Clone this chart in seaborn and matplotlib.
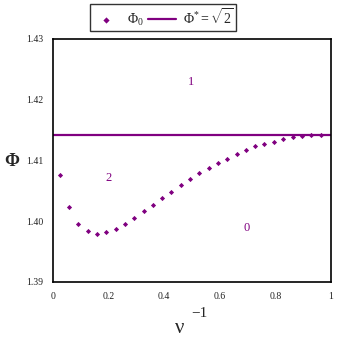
import numpy as np
import pandas as pd
import matplotlib
matplotlib.use('Agg')
import matplotlib.pyplot as plt
import seaborn as sns

# values
inv_nu = [0.024, 0.058, 0.091, 0.125, 0.158, 0.192, 0.225, 0.259, 0.292, 0.326,
          0.359, 0.393, 0.426, 0.460, 0.493, 0.527, 0.560, 0.594, 0.627, 0.661,
          0.694, 0.728, 0.761, 0.795, 0.828, 0.862, 0.895, 0.929, 0.963]
phi0 = [1.4076, 1.4024, 1.3996, 1.3983, 1.3979, 1.3982, 1.3987, 1.3995, 1.4005, 1.4016,
        1.4027, 1.4038, 1.4048, 1.4059, 1.4069, 1.4079, 1.4087, 1.4096, 1.4103, 1.4111,
        1.4117, 1.4123, 1.4127, 1.4131, 1.4135, 1.4138, 1.4140, 1.4142, 1.4142]
region_labels = ['1', '2', '0']
region_x = [0.495, 0.199, 0.697]
region_y = [1.4229, 1.4071, 1.3989]

purple = '#800080'
df = pd.DataFrame({'inv_nu': inv_nu, 'phi0': phi0})

sns.set_style('white')
plt.rcParams['font.family'] = ['Liberation Serif', 'DejaVu Serif']
plt.rcParams['mathtext.fontset'] = 'custom'
plt.rcParams['mathtext.rm'] = 'Liberation Serif'
plt.rcParams['mathtext.it'] = 'Liberation Serif:italic'

fig = plt.figure(figsize=(3.38, 3.38), dpi=100)
ax = fig.add_axes([0.157, 0.166, 0.822, 0.719])

sns.scatterplot(data=df, x='inv_nu', y='phi0', ax=ax, color=purple, marker='D',
                s=7, linewidth=0, label=r'$\mathrm{\Phi}_{\mathit{0}}$', legend=False)
ax.axhline(np.sqrt(2), color=purple, lw=1.6, label=r'$\mathrm{\Phi}^{*}\mathrm{=}\sqrt{2}$')

for t, x, y in zip(region_labels, region_x, region_y):
    ax.text(x, y, t, color=purple, fontsize=9, ha='center', va='center')

ax.set_xlim(0, 1)
ax.set_ylim(1.39, 1.43)
ax.set_xticks([0, 0.2, 0.4, 0.6, 0.8, 1])
ax.set_xticklabels(['0', '0.2', '0.4', '0.6', '0.8', '1'])
ax.set_yticks([1.39, 1.40, 1.41, 1.42, 1.43])
ax.set_yticklabels(['1.39', '1.40', '1.41', '1.42', '1.43'])
ax.set_xticks(np.arange(0.1, 1.0, 0.2), minor=True)
ax.set_yticks(np.arange(1.395, 1.43, 0.01), minor=True)
ax.tick_params(axis='both', which='both', color='#b0b0b0',
               labelsize=7, labelcolor='#222222')
ax.tick_params(axis='x', which='both', direction='in', pad=7)
ax.tick_params(axis='y', which='major', direction='out', length=4, pad=3)
ax.tick_params(which='minor', direction='in', length=3)
ax.tick_params(axis='x', which='major', length=4)
for s in ax.spines.values():
    s.set_color('black')
    s.set_linewidth(1.2)

ax.set_xlabel('ν', fontsize=15, va='center')
ax.xaxis.set_label_coords(0.457, -0.19)
fig.text(0.590, 0.062, '\u22121', fontsize=11, ha='center', va='baseline')
ax.set_ylabel('Φ', fontsize=13, fontweight='bold', rotation=0, va='center', ha='center')
ax.yaxis.set_label_coords(-0.147, 0.494)

h, l = ax.get_legend_handles_labels()
leg = fig.legend(h, l, loc='center', bbox_to_anchor=(0.482, 0.948), ncol=2,
                 frameon=True, fancybox=False, edgecolor='black', fontsize=10,
                 handlelength=2.0, handletextpad=0.5, columnspacing=0.3,
                 borderpad=0.2, markerscale=1.2)
leg.get_frame().set_linewidth(1.0)

fig.savefig('out.png', dpi=100)
